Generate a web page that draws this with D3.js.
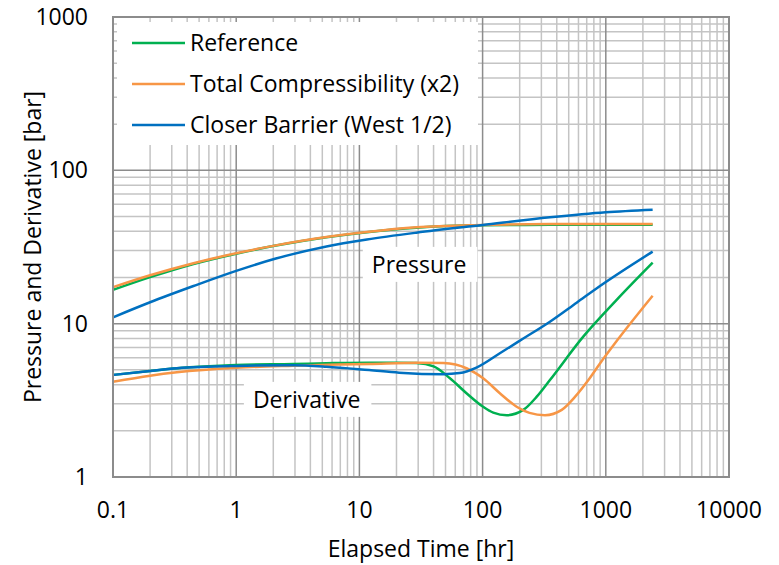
<!DOCTYPE html>
<html>
<head>
<meta charset="utf-8">
<script src="https://cdn.jsdelivr.net/npm/d3@7"></script>
<style>
  body { margin: 0; background: #fff; }
  svg text { font-family: "Open Sans", sans-serif; fill: #000; }
</style>
</head>
<body>
<svg id="chart" width="779" height="565"></svg>
<script>
// Values
var seriesNames = ['Reference', 'Total Compressibility (x2)', 'Closer Barrier (West 1/2)'];
var seriesColors = ['#00b050', '#f79646', '#0070c0'];

var pressureTime = [0.1, 0.2, 0.45, 1, 2.1, 5.4, 11.5, 29, 100, 352, 1000, 2400];
var refPressure = [16.6, 20.1, 24.5, 28.6, 32.3, 36.6, 39.5, 42.3, 43.8, 44.1, 44.2, 44.2];
var compPressure = [17.3, 20.7, 24.8, 28.8, 32.4, 36.7, 39.6, 42.5, 44.0, 44.6, 44.7, 44.7];
var barrierPressure = [11.0, 13.8, 17.6, 22.1, 26.6, 31.9, 35.4, 39.2, 44.0, 49.4, 53.3, 55.4];

var refDerivTime = [0.1, 0.2, 0.33, 1, 2.9, 5.4, 12, 20, 29, 40, 54, 74, 101, 122, 157, 214, 275, 352, 656, 1225, 2400];
var refDeriv = [4.63, 4.92, 5.12, 5.38, 5.46, 5.52, 5.57, 5.57, 5.53, 5.26, 4.42, 3.52, 2.87, 2.63, 2.53, 2.74, 3.34, 4.29, 8.23, 14.3, 25.0];

var compDerivTime = [0.1, 0.2, 0.33, 1, 2.9, 12, 30, 48, 74, 101, 138, 189, 240, 321, 439, 564, 722, 897, 1225, 2400];
var compDeriv = [4.18, 4.58, 4.82, 5.16, 5.32, 5.46, 5.57, 5.53, 5.12, 4.40, 3.52, 2.87, 2.62, 2.53, 2.74, 3.34, 4.29, 5.5, 7.7, 15.2];

var barrierDerivTime = [0.1, 0.2, 0.33, 1, 2.9, 5.4, 12, 21, 48, 65, 90, 138, 214, 352, 580, 897, 2400];
var barrierDeriv = [4.63, 4.92, 5.12, 5.30, 5.35, 5.24, 4.98, 4.79, 4.68, 4.76, 5.19, 6.41, 8.0, 10.3, 13.7, 17.6, 29.5];

var xTickValues = [0.1, 1, 10, 100, 1000, 10000];
var yTickValues = [1, 10, 100, 1000];

// annotation anchors in data space (time, value) = centre of the text
var pressureLabel = { text: 'Pressure', t: 30.5, v: 24.0 };
var derivLabel = { text: 'Derivative', t: 3.73, v: 3.16 };

var FONT = 23;
var margin = { top: 17, right: 50, bottom: 88, left: 113 };
var width = 779 - margin.left - margin.right;
var height = 565 - margin.top - margin.bottom;

var svg = d3.select('#chart');
var g = svg.append('g')
    .attr('transform', 'translate(' + margin.left + ',' + margin.top + ')');

var x = d3.scaleLog().domain([0.1, 10000]).range([0, width]);
var y = d3.scaleLog().domain([1, 1000]).range([height, 0]);

function isMajor(d) {
    var l = Math.log10(d);
    return Math.abs(l - Math.round(l)) < 1e-6;
}

// Grid: minor first, major on top
var xGrid = x.ticks().filter(function(d) { return d > 0.1 && d < 10000; });
var yGrid = y.ticks().filter(function(d) { return d > 1 && d < 1000; });

function drawGrid(major) {
    g.selectAll(null)
        .data(xGrid.filter(function(d) { return isMajor(d) === major; }))
        .enter().append('line')
            .attr('x1', function(d) { return x(d); })
            .attr('x2', function(d) { return x(d); })
            .attr('y1', 0).attr('y2', height)
            .attr('stroke', major ? '#8c8c8c' : '#c4c4c4')
            .attr('stroke-width', 1.5);

    g.selectAll(null)
        .data(yGrid.filter(function(d) { return isMajor(d) === major; }))
        .enter().append('line')
            .attr('y1', function(d) { return y(d); })
            .attr('y2', function(d) { return y(d); })
            .attr('x1', 0).attr('x2', width)
            .attr('stroke', major ? '#8c8c8c' : '#c4c4c4')
            .attr('stroke-width', 1.5);
}
drawGrid(false);
drawGrid(true);

// Legend box (white, hides grid)
var legend = g.append('g').attr('class', 'legend');
legend.append('rect')
    .attr('x', 4).attr('y', 5)
    .attr('width', 361).attr('height', 123)
    .attr('fill', '#fff');

var rows = legend.selectAll('g.row')
    .data(seriesNames)
    .enter().append('g')
        .attr('class', 'row')
        .attr('transform', function(d, i) {
            return 'translate(19,' + (26 + i * 41) + ')';
        });

rows.append('line')
    .attr('x1', 0).attr('x2', 53)
    .attr('stroke', function(d, i) { return seriesColors[i]; })
    .attr('stroke-width', 2.5);

rows.append('text')
    .attr('x', 58)
    .attr('dy', '0.35em')
    .style('font-size', FONT + 'px')
    .text(function(d) { return d; });

// Annotation boxes
function annotate(lab) {
    var a = g.append('g')
        .attr('transform', 'translate(' + x(lab.t) + ',' + y(lab.v) + ')');
    var txt = a.append('text')
        .attr('text-anchor', 'middle')
        .attr('dy', '0.35em')
        .style('font-size', FONT + 'px')
        .text(lab.text);
    var bb = txt.node().getBBox();
    a.insert('rect', 'text')
        .attr('x', bb.x - 9).attr('y', -18.5)
        .attr('width', bb.width + 20).attr('height', 35)
        .attr('fill', '#fff');
}
annotate(pressureLabel);
annotate(derivLabel);

// Curves
var line = d3.line()
    .x(function(d) { return x(d[0]); })
    .y(function(d) { return y(d[1]); })
    .curve(d3.curveMonotoneX);

var curves = [
    [pressureTime, refPressure, 0],
    [pressureTime, compPressure, 1],
    [pressureTime, barrierPressure, 2],
    [refDerivTime, refDeriv, 0],
    [compDerivTime, compDeriv, 1],
    [barrierDerivTime, barrierDeriv, 2]
];

// draw reference first so orange and blue sit above
[0, 3, 1, 4, 2, 5].forEach(function(k) {
    var c = curves[k];
    g.append('path')
        .datum(d3.zip(c[0], c[1]))
        .attr('fill', 'none')
        .attr('stroke', seriesColors[c[2]])
        .attr('stroke-width', 2.5)
        .attr('d', line);
});

// Plot border
g.append('rect')
    .attr('width', width).attr('height', height)
    .attr('fill', 'none')
    .attr('stroke', '#8c8c8c')
    .attr('stroke-width', 2);

// Tick labels
g.selectAll('.xlab')
    .data(xTickValues)
    .enter().append('text')
        .attr('class', 'xlab')
        .attr('x', function(d) { return x(d); })
        .attr('y', height + 41)
        .attr('text-anchor', 'middle')
        .style('font-size', FONT + 'px')
        .text(function(d) { return d; });

g.selectAll('.ylab')
    .data(yTickValues)
    .enter().append('text')
        .attr('class', 'ylab')
        .attr('x', -25)
        .attr('y', function(d) { return y(d); })
        .attr('dy', '0.35em')
        .attr('text-anchor', 'end')
        .style('font-size', FONT + 'px')
        .text(function(d) { return d; });

// Axis titles
g.append('text')
    .attr('x', width / 2)
    .attr('y', height + 80)
    .attr('text-anchor', 'middle')
    .style('font-size', FONT + 'px')
    .text('Elapsed Time [hr]');

g.append('text')
    .attr('transform', 'translate(' + (-72) + ',' + (height / 2) + ') rotate(-90)')
    .attr('text-anchor', 'middle')
    .style('font-size', FONT + 'px')
    .text('Pressure and Derivative [bar]');
</script>
</body>
</html>
